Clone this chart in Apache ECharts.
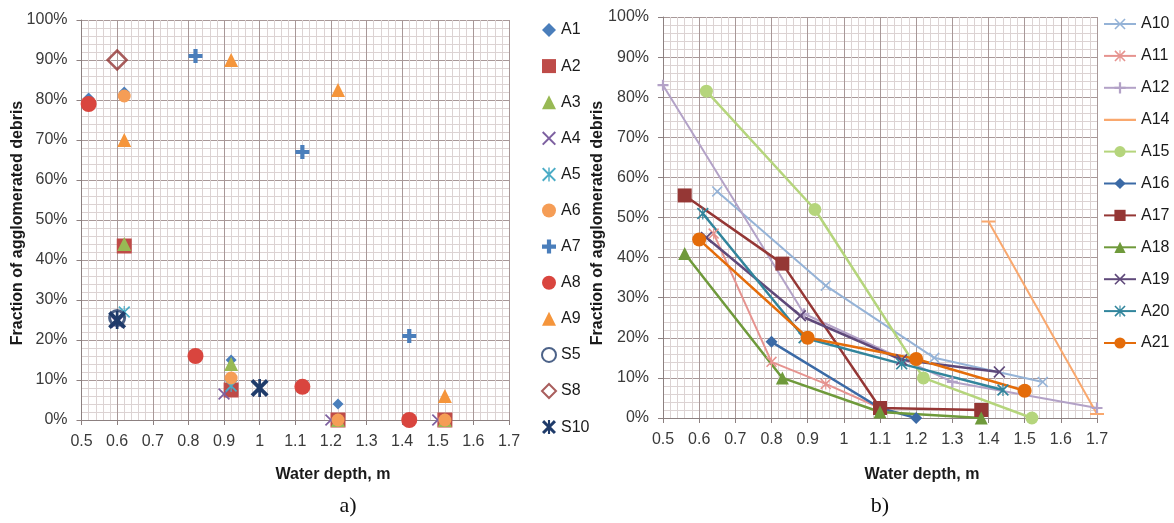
<!DOCTYPE html>
<html>
<head>
<meta charset="utf-8">
<script src="https://cdn.jsdelivr.net/npm/echarts@6/dist/echarts.min.js"></script>
<style>
html,body{margin:0;padding:0;background:#fff;}
#c{width:1174px;height:523px;}
</style>
</head>
<body>
<div id="c"></div>
<script>
// ---- Data (a): water depth [m], fraction of agglomerated debris [%]
var A1 = [[0.52,80.5],[0.62,82],[0.92,15],[1.22,4]];
var A2 = [[0.62,43.5],[0.92,7.5],[1.22,0],[1.52,0]];
var A3 = [[0.62,44],[0.92,14],[1.22,0],[1.52,0]];
var A4 = [[0.6,24.5],[0.9,6.5],[1.2,0],[1.5,0]];
var A5 = [[0.62,27],[0.92,8.5]];
var A6 = [[0.62,81],[0.92,10.5],[1.22,0],[1.52,0]];
var A7 = [[0.82,91],[1.12,67],[1.42,21]];
var A8 = [[0.52,79],[0.82,16],[1.12,8.3],[1.42,0]];
var A9 = [[0.62,70],[0.92,90],[1.22,82.5],[1.52,6]];
var S5 = [[0.6,25.5]];
var S8 = [[0.6,90]];
var S10 = [[0.6,25],[1.0,8]];

// ---- Data (b)
var A10 = [[0.65,56.5],[0.95,33],[1.25,15],[1.55,9]];
var A11 = [[0.64,46],[0.8,14],[0.95,8.5],[1.1,2.5]];
var A12 = [[0.5,83],[0.89,26],[1.3,9],[1.7,2.5]];
var A14 = [[1.4,49],[1.7,1]];
var A15 = [[0.62,81.5],[0.92,52],[1.22,10],[1.52,0]];
var A16 = [[0.8,19],[1.1,2.5],[1.2,0]];
var A17 = [[0.56,55.5],[0.83,38.5],[1.1,2.5],[1.38,2]];
var A18 = [[0.56,41],[0.83,10],[1.1,1.5],[1.38,0]];
var A19 = [[0.62,45],[0.88,25.5],[1.16,14.5],[1.43,11.5]];
var A20 = [[0.61,51],[0.89,20],[1.16,13.5],[1.44,7]];
var A21 = [[0.6,44.5],[0.9,20],[1.2,14.7],[1.5,6.8]];

var xMin = 0.5, xMax = 1.7, xStep = 0.1;
var yMin = 0, yMax = 100, yStep = 10;
var xTitle = 'Water depth, m';
var yTitle = 'Fraction of agglomerated debris';

// ---- Symbols
var PLUS = 'path://M4,0h2v4h4v2h-4v4h-2v-4h-4v-2h4z';
var PLUS_B = 'path://M3.5,0h3v3.5h3.5v3h-3.5v3.5h-3v-3.5h-3.5v-3h3.5z';
var XM = 'path://M0,1L1,0L5,4L9,0L10,1L6,5L10,9L9,10L5,6L1,10L0,9L4,5Z';
var AST = 'path://M0,1L1,0L5,4L9,0L10,1L6,5L10,9L9,10L5,6L1,10L0,9L4,5Z M4.5,0h1v10h-1Z';
var AST_B = 'path://M0,1.5L1.5,0L5,3.5L8.5,0L10,1.5L6.5,5L10,8.5L8.5,10L5,6.5L1.5,10L0,8.5L3.5,5Z M4.25,0h1.5v10h-1.5Z';
var LINE_ICON = 'path://M0,6h32v2.2h-32z M0,0h0.01v0.01h-0.01z M0,14h0.01v0.01h-0.01z';

var FONT = 'Liberation Sans';
var gridMajor = '#a89898';
var gridMinor = '#dcd3d3';

function xAxisDef(gi){
  return {
    type:'value', gridIndex:gi, min:xMin, max:xMax, interval:xStep,
    axisLine:{show:true, onZero:false, lineStyle:{color:'#8c8080', width:1}},
    axisTick:{show:true, length:5, lineStyle:{color:'#8c8080'}},
    axisLabel:{fontFamily:FONT, fontSize:16, color:'#3a3a3a', margin:14},
    splitLine:{show:true, lineStyle:{color:gridMajor, width:1}},
    minorTick:{show:false, splitNumber:5},
    minorSplitLine:{show:true, lineStyle:{color:gridMinor, width:1}}
  };
}
function yAxisDef(gi){
  return {
    type:'value', gridIndex:gi, min:yMin, max:yMax, interval:yStep,
    axisLine:{show:true, lineStyle:{color:'#8c8080', width:1}},
    axisTick:{show:true, length:5, lineStyle:{color:'#8c8080'}},
    axisLabel:{fontFamily:FONT, fontSize:16, color:'#3a3a3a', margin:14, formatter:'{value}%'},
    splitLine:{show:true, lineStyle:{color:gridMajor, width:1}},
    minorTick:{show:false, splitNumber:5},
    minorSplitLine:{show:true, lineStyle:{color:gridMinor, width:1}}
  };
}

function sc(name, data, symbol, size, color, extra){
  var s = {
    name:name, type:'scatter', xAxisIndex:0, yAxisIndex:0, data:data,
    symbol:symbol, symbolSize:size,
    itemStyle:{color:color, opacity:1},
    emphasis:{disabled:true}
  };
  if (extra) { for (var k in extra) s[k] = extra[k]; }
  return s;
}
function ln(name, data, symbol, size, color, width){
  return {
    name:name, type:'line', xAxisIndex:1, yAxisIndex:1, data:data,
    symbol:symbol, symbolSize:size, showSymbol:true,
    lineStyle:{color:color, width:width},
    itemStyle:{color:color},
    emphasis:{disabled:true}
  };
}

var seriesA = [
  sc('A1', A1, 'diamond', 11, '#4a7ebb'),
  sc('A2', A2, 'rect', 15, '#be4b48'),
  sc('A3', A3, 'triangle', 14, '#98b954'),
  sc('A4', A4, XM, 12, '#7d60a0'),
  sc('A5', A5, AST, 12, '#4bacc6'),
  sc('A6', A6, 'circle', 13, '#f59d56'),
  sc('A7', A7, PLUS_B, 14, '#4a7ebb'),
  sc('A8', A8, 'circle', 16, '#d9453e'),
  sc('A9', A9, 'triangle', 14, '#f5953b'),
  sc('S5', S5, 'circle', 15, '#2c4d75', {itemStyle:{color:'rgba(255,255,255,0)', borderColor:'#1f3b6a', borderWidth:3}}),
  sc('S8', S8, 'diamond', 19, '#943634', {itemStyle:{color:'rgba(255,255,255,0)', borderColor:'#943634', borderWidth:2.5}}),
  sc('S10', S10, AST_B, 18, '#1f3b6a')
];

var seriesB = [
  ln('A10', A10, XM, 11, '#95b3d7', 2),
  ln('A11', A11, AST, 11, '#e6938f', 2),
  ln('A12', A12, PLUS, 11, '#b3a2c7', 2),
  ln('A14', A14, 'rect', [14,2], '#f9a86e', 2),
  ln('A15', A15, 'circle', 13, '#b5d57c', 2.5),
  ln('A16', A16, 'diamond', 12, '#3b6aa6', 2.5),
  ln('A17', A17, 'rect', 14, '#953735', 2.5),
  ln('A18', A18, 'triangle', 13, '#6f9a3b', 2.5),
  ln('A19', A19, XM, 12, '#5f497a', 2.5),
  ln('A20', A20, AST, 12, '#31859c', 2.5),
  ln('A21', A21, 'circle', 14, '#e46c0a', 2.5)
];

var titleFont = 'bold 16px "Liberation Sans"';

var option = {
  animation:false,
  backgroundColor:'#ffffff',
  grid:[
    {left:81.5, top:20, width:427.5, height:400, containLabel:false},
    {left:663, top:17, width:434, height:401, containLabel:false}
  ],
  xAxis:[xAxisDef(0), xAxisDef(1)],
  yAxis:[yAxisDef(0), yAxisDef(1)],
  legend:[
    {
      orient:'vertical', left:536, top:17, itemWidth:14, itemHeight:14, itemGap:20.1,
      textStyle:{fontFamily:FONT, fontSize:16, color:'#1a1a1a', lineHeight:16},
      selectedMode:false,
      data:['A1','A2','A3','A4','A5','A6','A7','A8','A9','S5','S8','S10']
    },
    {
      orient:'vertical', left:1098, top:11, itemWidth:32, itemHeight:14, itemGap:15.9,
      textStyle:{fontFamily:FONT, fontSize:16, color:'#1a1a1a', lineHeight:16},
      selectedMode:false,
      data:['A10','A11','A12',{name:'A14', icon:LINE_ICON},'A15','A16','A17','A18','A19','A20','A21']
    }
  ],
  graphic:[
    {type:'text', x:18, y:223, rotation:Math.PI/2, style:{text:yTitle, font:titleFont, fill:'#1a1a1a', align:'center', verticalAlign:'middle'}},
    {type:'text', x:598, y:223, rotation:Math.PI/2, style:{text:yTitle, font:titleFont, fill:'#1a1a1a', align:'center', verticalAlign:'middle'}},
    {type:'text', x:333, y:475, style:{text:xTitle, font:titleFont, fill:'#1a1a1a', align:'center', verticalAlign:'middle'}},
    {type:'text', x:922, y:475, style:{text:xTitle, font:titleFont, fill:'#1a1a1a', align:'center', verticalAlign:'middle'}},
    {type:'text', x:348, y:506, style:{text:'a)', font:'22px "Liberation Serif"', fill:'#111', align:'center', verticalAlign:'middle'}},
    {type:'text', x:880, y:506, style:{text:'b)', font:'22px "Liberation Serif"', fill:'#111', align:'center', verticalAlign:'middle'}}
  ],
  series: seriesA.concat(seriesB)
};

var chart = echarts.init(document.getElementById('c'), null, {renderer:'canvas', width:1174, height:523});
chart.setOption(option);
</script>
</body>
</html>
